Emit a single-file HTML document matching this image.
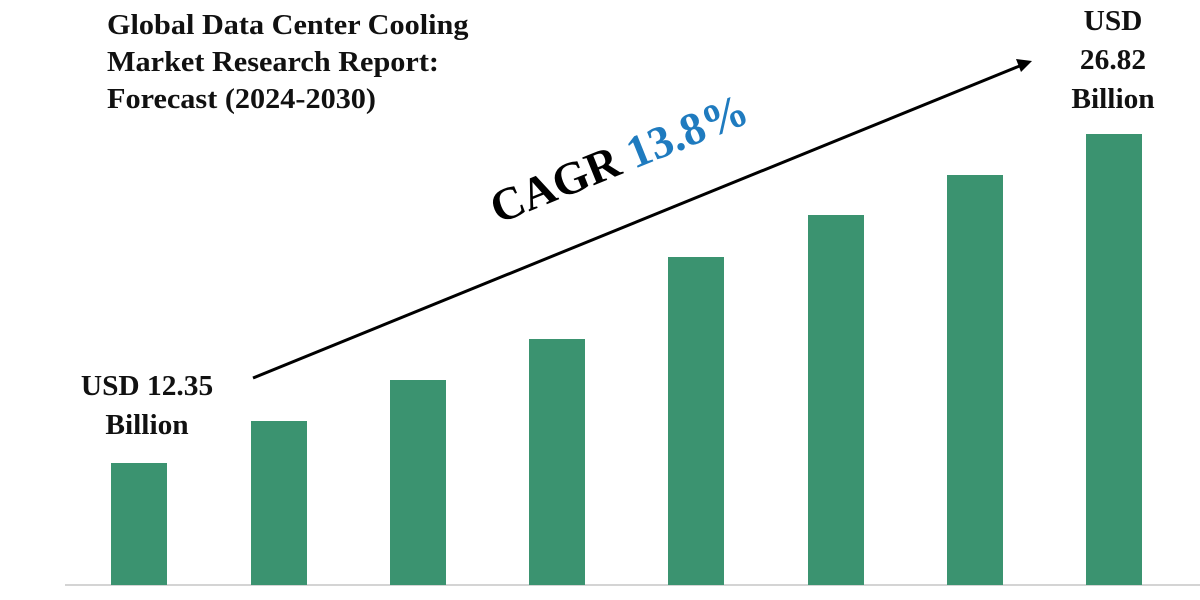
<!DOCTYPE html>
<html><head><style>
body{margin:0;width:1200px;height:600px;background:#fff;overflow:hidden;position:relative;font-family:"Liberation Serif",serif;}
.t{position:absolute;font-weight:bold;color:#111;}
.bar{position:absolute;background:#3b9370;width:56px;}
</style></head><body>
<div class="t" style="left:107px;top:7px;font-size:28px;line-height:37px;transform:scaleX(1.08);transform-origin:left top;">Global Data Center Cooling<br>Market Research Report:<br>Forecast (2024-2030)</div>
<div class="t" style="left:1058px;top:2px;width:110px;text-align:center;font-size:28px;line-height:39px;transform:scaleX(1.05);">USD<br>26.82<br>Billion</div>
<div class="t" style="left:80px;top:367px;width:134px;text-align:center;font-size:28px;line-height:39px;transform:scaleX(1.05);">USD 12.35<br>Billion</div>
<div style="position:absolute;left:65px;top:584px;width:1135px;height:2px;background:#d4d4d4"></div>
<div class="bar" style="left:111px;top:463px;height:122px"></div>
<div class="bar" style="left:251px;top:421px;height:164px"></div>
<div class="bar" style="left:390px;top:380px;height:205px"></div>
<div class="bar" style="left:529px;top:339px;height:246px"></div>
<div class="bar" style="left:668px;top:257px;height:328px"></div>
<div class="bar" style="left:808px;top:215px;height:370px"></div>
<div class="bar" style="left:947px;top:175px;height:410px"></div>
<div class="bar" style="left:1086px;top:134px;height:451px"></div>
<svg style="position:absolute;left:0;top:0" width="1200" height="600">
<line x1="253" y1="378" x2="1022" y2="65" stroke="#000" stroke-width="3"/>
<polygon points="1032,61 1016,59 1021,72" fill="#000"/>
<text transform="translate(498,224) rotate(-22)" font-family="Liberation Serif,serif" font-weight="bold" font-size="46" fill="#000">CAGR <tspan fill="#1f7bbf">13.8%</tspan></text>
</svg>
</body></html>
